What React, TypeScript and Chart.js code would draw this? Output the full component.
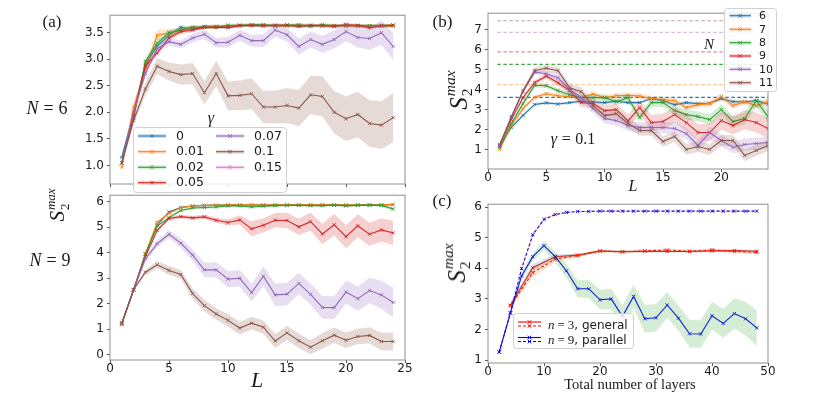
import React, { useEffect, useRef } from 'react';
import { Chart, registerables } from 'chart.js';

Chart.register(...registerables);
Chart.defaults.font.family = '"DejaVu Sans", sans-serif';

// ---------------- data ----------------
const L_VALUES = [1, 2, 3, 4, 5, 6, 7, 8, 9, 10, 11, 12, 13, 14, 15, 16, 17, 18, 19, 20, 21, 22, 23, 24];

const A_X_TICKS = [0, 5, 10, 15, 20, 25];
const A6_Y_TICKS = [1.0, 1.5, 2.0, 2.5, 3.0, 3.5];
const A9_Y_TICKS = [0, 1, 2, 3, 4, 5, 6];
const B_X_TICKS = [0, 5, 10, 15, 20];
const B_Y_TICKS = [1, 2, 3, 4, 5, 6, 7];
const C_X_TICKS = [0, 10, 20, 30, 40, 50];
const C_Y_TICKS = [1, 2, 3, 4, 5, 6];

const GAMMA_LABELS = ['0', '0.01', '0.02', '0.05', '0.07', '0.1', '0.15'];
const N_LABELS = ['6', '7', '8', '9', '10', '11'];
const C_LEGEND = [
  ['n', '3', ', general'],
  ['n', '9', ', parallel'],
];

// (a) N = 6
const A6_G0 = [1.15, 2.0, 2.9, 3.25, 3.45, 3.6, 3.57, 3.62, 3.62, 3.6, 3.64, 3.63, 3.63, 3.64, 3.64, 3.62, 3.63, 3.63, 3.62, 3.64, 3.63, 3.63, 3.62, 3.64];
const A6_G001 = [0.97, 2.1, 2.8, 3.45, 3.5, 3.54, 3.6, 3.6, 3.62, 3.62, 3.63, 3.64, 3.64, 3.62, 3.63, 3.64, 3.64, 3.63, 3.64, 3.62, 3.62, 3.63, 3.62, 3.62];
const A6_G002 = [1.05, 1.9, 2.96, 3.3, 3.5, 3.55, 3.6, 3.6, 3.6, 3.64, 3.64, 3.65, 3.65, 3.63, 3.64, 3.65, 3.62, 3.65, 3.63, 3.64, 3.63, 3.63, 3.64, 3.64];
const A6_G005 = [1.05, 1.95, 2.87, 3.12, 3.4, 3.52, 3.55, 3.6, 3.6, 3.6, 3.63, 3.64, 3.63, 3.64, 3.64, 3.62, 3.64, 3.63, 3.62, 3.65, 3.64, 3.59, 3.63, 3.64];
const A6_G007 = [1.05, 2.0, 2.73, 3.2, 3.33, 3.28, 3.4, 3.47, 3.31, 3.32, 3.45, 3.35, 3.35, 3.55, 3.46, 3.24, 3.37, 3.28, 3.37, 3.52, 3.41, 3.39, 3.5, 3.24];
const A6_G01 = [1.05, 1.85, 2.44, 2.87, 2.77, 2.71, 2.73, 2.37, 2.73, 2.31, 2.32, 2.35, 2.1, 2.1, 2.13, 2.08, 2.33, 2.3, 2.0, 1.88, 1.96, 1.79, 1.76, 1.9];

const A6_SP_CLUSTER = [0.06, 0.07, 0.07, 0.06, 0.05, 0.04, 0.04, 0.03, 0.03, 0.03, 0.03, 0.03, 0.03, 0.03, 0.03, 0.03, 0.03, 0.03, 0.03, 0.03, 0.03, 0.03, 0.03, 0.03];
const A6_SP_G001 = [0.06, 0.08, 0.1, 0.1, 0.07, 0.05, 0.04, 0.03, 0.03, 0.03, 0.03, 0.03, 0.03, 0.03, 0.03, 0.03, 0.03, 0.03, 0.03, 0.03, 0.03, 0.03, 0.03, 0.03];
const A6_SP_G007 = [0.04, 0.05, 0.06, 0.06, 0.07, 0.07, 0.08, 0.09, 0.09, 0.1, 0.1, 0.11, 0.12, 0.12, 0.13, 0.15, 0.15, 0.16, 0.17, 0.18, 0.19, 0.21, 0.23, 0.25];
const A6_SP_G01 = [0.05, 0.08, 0.12, 0.15, 0.17, 0.19, 0.2, 0.22, 0.24, 0.27, 0.28, 0.29, 0.3, 0.31, 0.33, 0.34, 0.36, 0.38, 0.4, 0.42, 0.43, 0.44, 0.45, 0.46];

// (a) N = 9
const A9_G0 = [1.2, 2.55, 3.95, 5.1, 5.6, 5.78, 5.84, 5.86, 5.87, 5.88, 5.88, 5.88, 5.88, 5.88, 5.88, 5.88, 5.88, 5.88, 5.88, 5.88, 5.88, 5.88, 5.88, 5.89];
const A9_G001 = [1.18, 2.55, 3.97, 5.2, 5.55, 5.77, 5.84, 5.86, 5.87, 5.88, 5.88, 5.88, 5.87, 5.88, 5.88, 5.88, 5.88, 5.88, 5.88, 5.87, 5.88, 5.88, 5.88, 5.9];
const A9_G002 = [1.22, 2.55, 3.95, 5.05, 5.38, 5.66, 5.76, 5.78, 5.8, 5.84, 5.84, 5.8, 5.83, 5.85, 5.86, 5.86, 5.85, 5.85, 5.87, 5.84, 5.86, 5.87, 5.86, 5.72];
const A9_G005 = [1.25, 2.55, 3.85, 4.88, 5.35, 5.42, 5.37, 5.41, 5.28, 5.19, 5.29, 4.94, 5.08, 5.28, 5.27, 5.02, 5.22, 4.74, 5.1, 4.63, 5.06, 4.73, 4.9, 4.78];
const A9_G007 = [1.25, 2.55, 3.76, 4.36, 4.73, 4.38, 3.91, 3.33, 3.33, 2.97, 3.0, 2.44, 3.08, 2.35, 2.38, 2.8, 2.37, 1.86, 1.85, 2.46, 2.2, 2.52, 2.35, 2.05];
const A9_G01 = [1.23, 2.56, 3.24, 3.53, 3.31, 3.15, 2.4, 1.93, 1.6, 1.35, 1.05, 1.24, 1.08, 0.54, 0.86, 0.55, 0.3, 0.55, 0.77, 0.57, 0.72, 0.76, 0.52, 0.52];

const A9_SP_CLUSTER = [0.03, 0.04, 0.05, 0.05, 0.04, 0.03, 0.03, 0.03, 0.03, 0.03, 0.03, 0.03, 0.03, 0.03, 0.03, 0.03, 0.03, 0.03, 0.03, 0.03, 0.03, 0.03, 0.03, 0.03];
const A9_SP_G002 = [0.03, 0.04, 0.05, 0.05, 0.05, 0.05, 0.05, 0.05, 0.05, 0.04, 0.04, 0.04, 0.04, 0.04, 0.04, 0.04, 0.04, 0.04, 0.04, 0.04, 0.04, 0.04, 0.05, 0.07];
const A9_SP_G005 = [0.03, 0.04, 0.05, 0.06, 0.06, 0.07, 0.08, 0.09, 0.1, 0.12, 0.18, 0.3, 0.28, 0.28, 0.3, 0.32, 0.35, 0.4, 0.42, 0.45, 0.45, 0.45, 0.46, 0.48];
const A9_SP_G007 = [0.03, 0.05, 0.1, 0.13, 0.15, 0.18, 0.22, 0.28, 0.3, 0.32, 0.33, 0.35, 0.38, 0.45, 0.45, 0.42, 0.42, 0.45, 0.45, 0.45, 0.48, 0.5, 0.55, 0.58];
const A9_SP_G01 = [0.03, 0.05, 0.1, 0.15, 0.17, 0.18, 0.2, 0.22, 0.23, 0.24, 0.25, 0.25, 0.26, 0.27, 0.28, 0.28, 0.28, 0.3, 0.3, 0.3, 0.3, 0.32, 0.34, 0.35];

// (b) gamma = 0.1, N = 6..11
const B_N6 = [1.15, 2.1, 2.71, 3.26, 3.34, 3.28, 3.35, 3.42, 3.38, 3.35, 3.42, 3.35, 3.35, 3.56, 3.45, 3.25, 3.35, 3.3, 3.32, 3.55, 3.4, 3.38, 3.45, 3.28];
const B_N7 = [1.0, 2.2, 3.05, 3.62, 3.8, 3.7, 3.65, 3.6, 3.78, 3.6, 3.7, 3.72, 3.68, 3.55, 3.5, 3.45, 3.1, 3.25, 3.3, 3.65, 3.2, 3.4, 3.2, 3.4];
const B_N8 = [1.1, 2.3, 3.3, 4.22, 4.2, 3.95, 3.75, 3.6, 3.6, 3.6, 3.4, 3.6, 2.6, 3.35, 3.35, 2.95, 2.75, 2.65, 2.5, 3.0, 2.4, 2.55, 3.45, 2.65];
const B_N9 = [1.2, 2.5, 3.6, 4.36, 4.68, 4.35, 3.95, 3.35, 3.3, 2.95, 3.0, 2.43, 3.1, 2.35, 2.4, 2.75, 2.35, 1.85, 1.85, 2.45, 2.2, 2.5, 2.35, 2.05];
const B_N10 = [1.2, 2.6, 3.9, 4.88, 4.8, 4.6, 4.0, 3.6, 3.05, 2.55, 2.45, 2.2, 2.1, 2.1, 2.1, 2.05, 1.8, 1.2, 1.85, 1.45, 1.1, 1.25, 1.3, 1.35];
const B_N11 = [1.25, 2.65, 3.95, 4.97, 5.08, 4.95, 4.1, 3.9, 3.2, 2.7, 2.8, 2.3, 1.95, 1.95, 1.4, 1.65, 1.0, 1.15, 1.0, 1.45, 1.45, 0.7, 0.95, 1.2];

const B_SP_N6 = [0.05, 0.06, 0.07, 0.07, 0.07, 0.07, 0.07, 0.07, 0.07, 0.08, 0.08, 0.08, 0.08, 0.08, 0.08, 0.08, 0.08, 0.08, 0.09, 0.09, 0.09, 0.09, 0.09, 0.09];
const B_SP_N7 = [0.05, 0.08, 0.1, 0.1, 0.1, 0.1, 0.1, 0.12, 0.12, 0.12, 0.14, 0.14, 0.14, 0.15, 0.15, 0.15, 0.15, 0.15, 0.16, 0.16, 0.16, 0.17, 0.17, 0.18];
const B_SP_N8 = [0.05, 0.08, 0.1, 0.12, 0.12, 0.12, 0.14, 0.15, 0.16, 0.17, 0.18, 0.2, 0.2, 0.22, 0.22, 0.24, 0.25, 0.25, 0.26, 0.27, 0.28, 0.3, 0.3, 0.3];
const B_SP_N9 = [0.05, 0.08, 0.1, 0.12, 0.14, 0.15, 0.18, 0.22, 0.25, 0.28, 0.3, 0.32, 0.35, 0.38, 0.4, 0.4, 0.42, 0.42, 0.45, 0.45, 0.45, 0.48, 0.5, 0.5];
const B_SP_N10 = [0.05, 0.08, 0.1, 0.12, 0.14, 0.16, 0.18, 0.2, 0.22, 0.25, 0.25, 0.26, 0.27, 0.28, 0.28, 0.3, 0.3, 0.3, 0.3, 0.3, 0.3, 0.3, 0.3, 0.3];
const B_SP_N11 = [0.05, 0.08, 0.12, 0.15, 0.17, 0.18, 0.2, 0.22, 0.22, 0.24, 0.25, 0.25, 0.25, 0.26, 0.26, 0.27, 0.27, 0.28, 0.28, 0.28, 0.28, 0.28, 0.28, 0.28];

const B_MAX_VALUES = [3.62, 4.25, 5.27, 5.9, 6.88, 7.46];
const B_MAX_X = [0.8, 24];

// (c)
const C_X_BLUE = [2, 4, 6, 8, 10, 12, 14, 16, 18, 20, 22, 24, 26, 28, 30, 32, 34, 36, 38, 40, 42, 44, 46, 48];
const C_BLUE_SOLID = [1.26, 2.54, 3.75, 4.38, 4.74, 4.38, 3.92, 3.33, 3.33, 2.97, 3.0, 2.43, 3.08, 2.35, 2.38, 2.8, 2.37, 1.86, 1.85, 2.45, 2.2, 2.52, 2.35, 2.05];
const C_BLUE_DASHED = [1.26, 2.54, 3.99, 5.1, 5.6, 5.76, 5.83, 5.86, 5.86, 5.87, 5.87, 5.87, 5.87, 5.87, 5.87, 5.87, 5.87, 5.87, 5.87, 5.87, 5.87, 5.87, 5.87, 5.87];
const C_X_RED = [4, 8, 12, 16, 20, 24, 28, 32, 36, 40, 44, 48];
const C_RED_SOLID = [2.79, 4.02, 4.38, 4.43, 4.57, 4.54, 4.56, 4.55, 4.55, 4.57, 4.58, 4.56];
const C_RED_DASHED = [2.77, 3.86, 4.3, 4.42, 4.56, 4.54, 4.57, 4.6, 4.56, 4.6, 4.55, 4.52];

const C_SP_RED_SOLID = [0.1, 0.12, 0.08, 0.05, 0.04, 0.04, 0.04, 0.04, 0.04, 0.04, 0.04, 0.04];
const C_SP_RED_DASHED = [0.12, 0.15, 0.1, 0.06, 0.05, 0.05, 0.05, 0.05, 0.05, 0.05, 0.05, 0.05];
const C_SP_BLUE_SOLID = [0.03, 0.05, 0.1, 0.13, 0.15, 0.18, 0.22, 0.28, 0.3, 0.32, 0.33, 0.35, 0.38, 0.45, 0.45, 0.42, 0.42, 0.45, 0.45, 0.45, 0.48, 0.5, 0.55, 0.58];
const C_SP_BLUE_DASHED = [0.02, 0.05, 0.08, 0.06, 0.04, 0.03, 0.02, 0.02, 0.02, 0.02, 0.02, 0.02, 0.02, 0.02, 0.02, 0.02, 0.02, 0.02, 0.02, 0.02, 0.02, 0.02, 0.02, 0.02];

// ---------------- style ----------------
const TAB = ['#1f77b4', '#ff7f0e', '#2ca02c', '#d62728', '#9467bd', '#8c564b', '#e377c2'];
const PURE_RED = '#ff0000';
const PURE_BLUE = '#0000ff';
const SERIF = '"Liberation Serif", "DejaVu Serif", serif';
const SANS = '"DejaVu Sans", sans-serif';
const TEXT = '#1a1a1a';
const YW = 40;
const PT = 8;
const PR = 12;

function rgba(hex: string, a: number) {
  const n = parseInt(hex.slice(1), 16);
  return `rgba(${(n >> 16) & 255},${(n >> 8) & 255},${n & 255},${a})`;
}
function pts(xs: number[], ys: number[]) {
  return xs.map((x, i) => ({ x, y: ys[i] }));
}
function lineDs(xs: number[], ys: number[], color: string, order: number, dash: number[] = [], marker = true, width = 1.1) {
  return {
    data: pts(xs, ys),
    borderColor: color,
    backgroundColor: color,
    borderWidth: width,
    borderDash: dash,
    pointStyle: 'crossRot',
    pointRadius: marker ? 2.3 : 0,
    pointBorderWidth: 0.9,
    pointBorderColor: color,
    fill: false,
    tension: 0,
    order,
  };
}
function bandDs(xs: number[], ys: number[], sp: number[], color: string, alpha: number, order: number) {
  return [
    { data: xs.map((x, i) => ({ x, y: ys[i] + sp[i] })), borderWidth: 0, borderColor: 'rgba(0,0,0,0)', pointRadius: 0, fill: false, order, tension: 0 },
    { data: xs.map((x, i) => ({ x, y: ys[i] - sp[i] })), borderWidth: 0, borderColor: 'rgba(0,0,0,0)', pointRadius: 0, fill: '-1', backgroundColor: rgba(color, alpha), order, tension: 0 },
  ];
}

type Geo = { L: number; R: number; T: number; B: number; xh: number };
const GEO_A6: Geo = { L: 110, R: 405, T: 13, B: 184, xh: 14 };
const GEO_A9: Geo = { L: 110, R: 405, T: 193, B: 360, xh: 22 };
const GEO_B: Geo = { L: 488, R: 768, T: 11, B: 169, xh: 20 };
const GEO_C: Geo = { L: 488, R: 768, T: 202, B: 363, xh: 20 };

function box(g: Geo) {
  return { left: g.L - YW, top: g.T - PT, width: g.R - g.L + YW + PR, height: g.B - g.T + PT + g.xh };
}

const tickFont = { size: 12, family: SANS };

function xAxis(min: number, max: number, ticks: number[], showLabels: boolean, xh: number) {
  return {
    type: 'linear',
    position: 'bottom',
    min,
    max,
    afterBuildTicks: (s: any) => {
      s.ticks = ticks.map((v) => ({ value: v }));
    },
    afterFit: (s: any) => {
      s.height = xh;
    },
    ticks: { display: showLabels, autoSkip: false, maxRotation: 0, minRotation: 0, padding: -1, color: TEXT, font: tickFont, callback: (v: any) => String(v) },
    grid: { display: true, drawOnChartArea: false, drawTicks: true, tickLength: 3, color: '#555', tickColor: '#555', lineWidth: 1 },
    border: { display: false },
  };
}
function yAxis(min: number, max: number, ticks: number[], fmt: (v: number) => string) {
  return {
    type: 'linear',
    position: 'left',
    min,
    max,
    afterBuildTicks: (s: any) => {
      s.ticks = ticks.map((v) => ({ value: v }));
    },
    afterFit: (s: any) => {
      s.width = YW;
    },
    ticks: { autoSkip: false, padding: 3, color: TEXT, font: tickFont, callback: (v: any) => fmt(Number(v)) },
    grid: { display: true, drawOnChartArea: false, drawTicks: true, tickLength: 3, color: '#555', tickColor: '#555', lineWidth: 1 },
    border: { display: false },
  };
}

const framePlugin = {
  id: 'frame',
  afterDatasetsDraw(chart: any) {
    const { ctx, chartArea: a } = chart;
    ctx.save();
    ctx.strokeStyle = '#8f8f8f';
    ctx.lineWidth = 1;
    ctx.strokeRect(a.left, a.top, a.right - a.left, a.bottom - a.top);
    ctx.restore();
  },
};

function legendBox(ctx: CanvasRenderingContext2D, x: number, y: number, w: number, h: number) {
  ctx.save();
  ctx.beginPath();
  if ((ctx as any).roundRect) (ctx as any).roundRect(x + 0.5, y + 0.5, w, h, 3);
  else ctx.rect(x + 0.5, y + 0.5, w, h);
  ctx.fillStyle = 'rgba(255,255,255,0.85)';
  ctx.fill();
  ctx.strokeStyle = '#d0d0d0';
  ctx.lineWidth = 1;
  ctx.stroke();
  ctx.restore();
}
function handle(ctx: CanvasRenderingContext2D, x1: number, x2: number, y: number, color: string, dash: number[], band: boolean) {
  ctx.save();
  if (band) {
    ctx.fillStyle = rgba(color, 0.2);
    ctx.fillRect(x1, y - 2, x2 - x1, 4);
  }
  ctx.strokeStyle = color;
  ctx.lineWidth = 1.1;
  ctx.setLineDash(dash);
  ctx.beginPath();
  ctx.moveTo(x1, y);
  ctx.lineTo(x2, y);
  ctx.stroke();
  ctx.setLineDash([]);
  const cx = (x1 + x2) / 2;
  const r = 1.8;
  ctx.lineWidth = 0.9;
  ctx.beginPath();
  ctx.moveTo(cx - r, y - r);
  ctx.lineTo(cx + r, y + r);
  ctx.moveTo(cx - r, y + r);
  ctx.lineTo(cx + r, y - r);
  ctx.stroke();
  ctx.restore();
}

function legendAPlugin(g: Geo) {
  const b = box(g);
  return {
    id: 'legendA',
    afterDraw(chart: any) {
      const ctx = chart.ctx as CanvasRenderingContext2D;
      ctx.save();
      ctx.translate(-b.left, -b.top);
      legendBox(ctx, 133, 127, 153, 65);
      ctx.fillStyle = TEXT;
      ctx.textAlign = 'center';
      ctx.textBaseline = 'middle';
      ctx.font = `italic 16px ${SERIF}`;
      ctx.fillText('γ', 211, 119);
      const rows = [136, 151.7, 167.3, 182.7];
      ctx.font = `12.5px ${SANS}`;
      ctx.textAlign = 'left';
      GAMMA_LABELS.forEach((lab, i) => {
        const col = i < 4 ? 0 : 1;
        const row = i < 4 ? i : i - 4;
        const x1 = col === 0 ? 138 : 216;
        const tx = col === 0 ? 176 : 254;
        handle(ctx, x1, x1 + 28, rows[row], TAB[i], [], true);
        ctx.fillStyle = TEXT;
        ctx.fillText(lab, tx, rows[row] + 0.5);
      });
      ctx.restore();
    },
  };
}
function legendBPlugin(g: Geo) {
  const b = box(g);
  return {
    id: 'legendB',
    afterDraw(chart: any) {
      const ctx = chart.ctx as CanvasRenderingContext2D;
      ctx.save();
      ctx.translate(-b.left, -b.top);
      legendBox(ctx, 724, 8, 52, 83);
      const rows = [15.7, 29.3, 42.7, 56, 69.3, 82.7];
      ctx.font = `11px ${SANS}`;
      ctx.textAlign = 'left';
      ctx.textBaseline = 'middle';
      N_LABELS.forEach((lab, i) => {
        handle(ctx, 729.5, 751, rows[i], TAB[i], [], true);
        ctx.fillStyle = TEXT;
        ctx.fillText(lab, 759, rows[i] + 0.5);
      });
      ctx.restore();
    },
  };
}
function legendCPlugin(g: Geo) {
  const b = box(g);
  return {
    id: 'legendC',
    afterDraw(chart: any) {
      const ctx = chart.ctx as CanvasRenderingContext2D;
      ctx.save();
      ctx.translate(-b.left, -b.top);
      legendBox(ctx, 513, 313, 120, 35);
      const colors = [PURE_RED, PURE_BLUE];
      const ys = [[322, 326], [337.5, 341.5]];
      const ty = [325.5, 340.5];
      C_LEGEND.forEach((seg, i) => {
        handle(ctx, 518, 541, ys[i][0], colors[i], [], false);
        handle(ctx, 518, 541, ys[i][1], colors[i], [3, 2], false);
        ctx.fillStyle = TEXT;
        ctx.textAlign = 'left';
        ctx.textBaseline = 'middle';
        let x = 548;
        ctx.font = `italic 13px ${SERIF}`;
        ctx.fillText(seg[0], x, ty[i]);
        x += ctx.measureText(seg[0]).width + 3;
        ctx.font = `13px ${SERIF}`;
        ctx.fillText('=', x, ty[i]);
        x += ctx.measureText('=').width + 3;
        ctx.fillText(seg[1], x, ty[i]);
        x += ctx.measureText(seg[1]).width;
        ctx.font = `12px ${SANS}`;
        ctx.fillText(seg[2], x, ty[i] + 0.5);
      });
      ctx.restore();
    },
  };
}

function baseOptions(scales: any) {
  return {
    animation: false,
    responsive: true,
    maintainAspectRatio: false,
    events: [],
    layout: { padding: { top: PT, right: PR, left: 0, bottom: 0 } },
    plugins: { legend: { display: false }, tooltip: { enabled: false } },
    scales,
  };
}

function configA6() {
  const ys = [A6_G0, A6_G001, A6_G002, A6_G005, A6_G007, A6_G01];
  const sps = [A6_SP_CLUSTER, A6_SP_G001, A6_SP_CLUSTER, A6_SP_CLUSTER, A6_SP_G007, A6_SP_G01];
  const datasets: any[] = [];
  ys.forEach((y, i) => {
    datasets.push(...bandDs(L_VALUES, y, sps[i], TAB[i], 0.22, -i));
    datasets.push(lineDs(L_VALUES, y, TAB[i], -i));
  });
  return {
    type: 'line',
    data: { datasets },
    options: baseOptions({
      x: xAxis(0, 25, A_X_TICKS, false, GEO_A6.xh),
      y: yAxis(0.651, 3.829, A6_Y_TICKS, (v) => v.toFixed(1)),
    }),
    plugins: [framePlugin, legendAPlugin(GEO_A6)],
  };
}
function configA9() {
  const ys = [A9_G0, A9_G001, A9_G002, A9_G005, A9_G007, A9_G01];
  const sps = [A9_SP_CLUSTER, A9_SP_CLUSTER, A9_SP_G002, A9_SP_G005, A9_SP_G007, A9_SP_G01];
  const datasets: any[] = [];
  ys.forEach((y, i) => {
    datasets.push(...bandDs(L_VALUES, y, sps[i], TAB[i], 0.22, -i));
    datasets.push(lineDs(L_VALUES, y, TAB[i], -i));
  });
  return {
    type: 'line',
    data: { datasets },
    options: baseOptions({
      x: xAxis(0, 25, A_X_TICKS, true, GEO_A9.xh),
      y: yAxis(-0.205, 6.26, A9_Y_TICKS, (v) => String(v)),
    }),
    plugins: [framePlugin],
  };
}
function configB() {
  const ys = [B_N6, B_N7, B_N8, B_N9, B_N10, B_N11];
  const sps = [B_SP_N6, B_SP_N7, B_SP_N8, B_SP_N9, B_SP_N10, B_SP_N11];
  const dashAlpha = [1, 0.45, 0.9, 0.55, 0.45, 0.55];
  const datasets: any[] = [];
  B_MAX_VALUES.forEach((v, i) => {
    datasets.push(lineDs(B_MAX_X, [v, v], rgba(TAB[i], dashAlpha[i]), 10 - i, [3.5, 2.5], false, 1.2));
  });
  ys.forEach((y, i) => {
    datasets.push(...bandDs(L_VALUES, y, sps[i], TAB[i], 0.2, -i));
    datasets.push(lineDs(L_VALUES, y, TAB[i], -i));
  });
  return {
    type: 'line',
    data: { datasets },
    options: baseOptions({
      x: xAxis(0, 24, B_X_TICKS, true, GEO_B.xh),
      y: yAxis(0.02, 7.84, B_Y_TICKS, (v) => String(v)),
    }),
    plugins: [framePlugin, legendBPlugin(GEO_B)],
  };
}
function configC() {
  const datasets: any[] = [
    ...bandDs(C_X_RED, C_RED_SOLID, C_SP_RED_SOLID, TAB[0], 0.2, 0),
    lineDs(C_X_RED, C_RED_SOLID, PURE_RED, 0),
    ...bandDs(C_X_RED, C_RED_DASHED, C_SP_RED_DASHED, TAB[1], 0.2, -1),
    lineDs(C_X_RED, C_RED_DASHED, PURE_RED, -1, [3, 2]),
    ...bandDs(C_X_BLUE, C_BLUE_SOLID, C_SP_BLUE_SOLID, TAB[2], 0.2, -2),
    lineDs(C_X_BLUE, C_BLUE_SOLID, PURE_BLUE, -2),
    ...bandDs(C_X_BLUE, C_BLUE_DASHED, C_SP_BLUE_DASHED, TAB[3], 0.2, -3),
    lineDs(C_X_BLUE, C_BLUE_DASHED, PURE_BLUE, -3, [3, 2]),
  ];
  return {
    type: 'line',
    data: { datasets },
    options: baseOptions({
      x: xAxis(0, 50, C_X_TICKS, true, GEO_C.xh),
      y: yAxis(0.903, 6.097, C_Y_TICKS, (v) => String(v)),
    }),
    plugins: [framePlugin, legendCPlugin(GEO_C)],
  };
}

function Panel({ geo, make, z }: { geo: Geo; make: () => any; z: number }) {
  const ref = useRef<HTMLCanvasElement>(null);
  useEffect(() => {
    const chart = new Chart(ref.current as HTMLCanvasElement, make());
    return () => chart.destroy();
  }, []);
  const b = box(geo);
  return (
    <div style={{ position: 'absolute', left: b.left, top: b.top, width: b.width, height: b.height, zIndex: z }}>
      <canvas ref={ref} />
    </div>
  );
}

function Txt({ x, y, size, italic, children, family }: any) {
  return (
    <div
      style={{
        position: 'absolute',
        left: x,
        top: y,
        transform: 'translate(-50%, -50%)',
        fontFamily: family || SERIF,
        fontSize: size,
        fontStyle: italic ? 'italic' : 'normal',
        whiteSpace: 'nowrap',
        lineHeight: 1,
        color: TEXT,
        zIndex: 10,
      }}
    >
      {children}
    </div>
  );
}

function MathEq({ sym, val, size }: any) {
  return (
    <span>
      <span style={{ fontStyle: 'italic' }}>{sym}</span>
      <span style={{ margin: `0 ${0.28 * size}px` }}>=</span>
      <span>{val}</span>
    </span>
  );
}

function SLabel({ x, y, size }: any) {
  return (
    <div
      style={{
        position: 'absolute',
        left: x,
        top: y,
        transform: 'translate(-50%, -50%) rotate(-90deg)',
        fontFamily: SERIF,
        fontSize: size,
        lineHeight: 1,
        whiteSpace: 'nowrap',
        display: 'flex',
        alignItems: 'center',
        color: TEXT,
        zIndex: 10,
      }}
    >
      <span style={{ fontStyle: 'italic' }}>S</span>
      <span style={{ display: 'inline-flex', flexDirection: 'column', fontSize: size * 0.62, lineHeight: 1, marginLeft: 1 }}>
        <span style={{ fontStyle: 'italic' }}>max</span>
        <span style={{ marginTop: 1 }}>2</span>
      </span>
    </div>
  );
}

export default function App() {
  return (
    <div style={{ position: 'absolute', left: 0, top: 0, width: 830, height: 396, background: '#fff', overflow: 'hidden' }}>
      <Panel geo={GEO_A9} make={configA9} z={1} />
      <Panel geo={GEO_A6} make={configA6} z={2} />
      <Panel geo={GEO_B} make={configB} z={1} />
      <Panel geo={GEO_C} make={configC} z={1} />

      <Txt x={52} y={21} size={17}>(a)</Txt>
      <Txt x={442.5} y={20.5} size={17}>(b)</Txt>
      <Txt x={442} y={199.5} size={17}>(c)</Txt>

      <Txt x={47} y={108} size={18}><MathEq sym="N" val="6" size={18} /></Txt>
      <Txt x={50} y={260} size={18}><MathEq sym="N" val="9" size={18} /></Txt>

      <SLabel x={58} y={205} size={21} />
      <SLabel x={458} y={90} size={25} />
      <SLabel x={456} y={263} size={25} />

      <Txt x={257} y={380} size={22} italic>L</Txt>
      <Txt x={633} y={186} size={16} italic>L</Txt>
      <Txt x={630} y={384} size={14.5}>Total number of layers</Txt>
      <Txt x={573} y={139} size={16}><MathEq sym="γ" val="0.1" size={16} /></Txt>
      <Txt x={709} y={43.5} size={15} italic>N</Txt>
    </div>
  );
}
